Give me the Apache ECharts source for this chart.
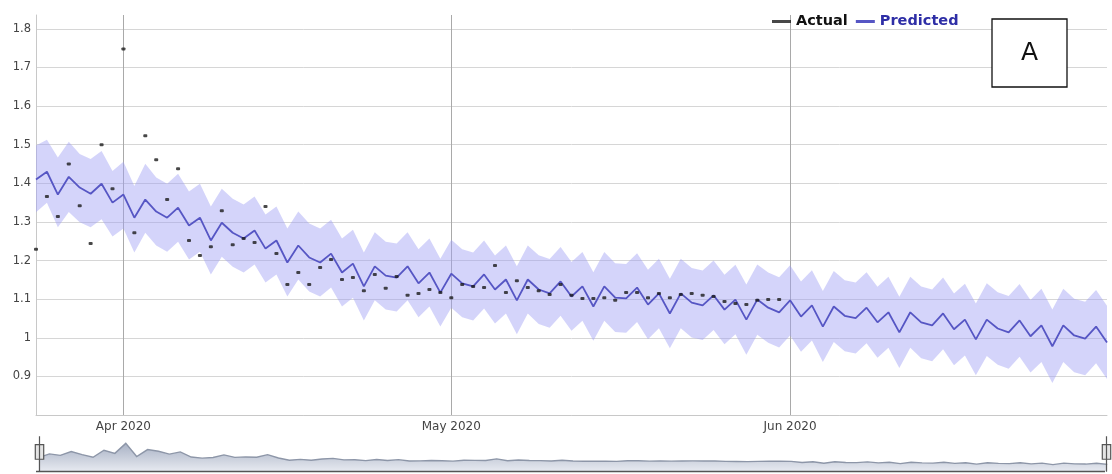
<!DOCTYPE html>
<html>
<head>
<meta charset="utf-8">
<script src="https://cdn.jsdelivr.net/npm/echarts@6/dist/echarts.min.js"></script>
<style>
html,body{margin:0;padding:0;background:#fff;}
#chart{width:1112px;height:474px;}
</style>
</head>
<body>
<div id="chart"></div>
<script>
// X categories: daily dates from 2020-03-24 to 2020-06-30
const startYear = 2020, startMonth = 2, startDay = 24, nDays = 99;
const dates = [];
for (let i = 0; i < nDays; i++) {
  dates.push(new Date(Date.UTC(startYear, startMonth, startDay + i)).toISOString().slice(0, 10));
}
const tickDates = ['2020-04-01', '2020-05-01', '2020-06-01'];
const tickLabels = ['Apr 2020', 'May 2020', 'Jun 2020'];

// Actual observed values (2020-03-24 .. 2020-05-31)
const actual = [
  1.229, 1.366, 1.314, 1.450, 1.342, 1.244, 1.500, 1.386, 1.748, 1.272,
  1.523, 1.461, 1.358, 1.438, 1.252, 1.213, 1.236, 1.329, 1.241, 1.257,
  1.247, 1.340, 1.218, 1.138, 1.169, 1.138, 1.182, 1.203, 1.151, 1.156,
  1.122, 1.164, 1.128, 1.159, 1.110, 1.115, 1.125, 1.117, 1.104, 1.138,
  1.133, 1.130, 1.187, 1.117, 1.148, 1.130, 1.122, 1.112, 1.138, 1.110,
  1.102, 1.102, 1.104, 1.097, 1.117, 1.117, 1.104, 1.115, 1.104, 1.112,
  1.115, 1.110, 1.107, 1.094, 1.089, 1.086, 1.097, 1.099, 1.099
];

// Predicted values (2020-03-24 .. 2020-06-30)
const predicted = [
  1.410, 1.430, 1.371, 1.417, 1.389, 1.373, 1.399, 1.350, 1.371, 1.311,
  1.358, 1.327, 1.311, 1.337, 1.291, 1.311, 1.252, 1.298, 1.272, 1.257,
  1.278, 1.231, 1.252, 1.195, 1.239, 1.208, 1.195, 1.218, 1.169, 1.192,
  1.133, 1.185, 1.161, 1.156, 1.185, 1.141, 1.169, 1.117, 1.166, 1.141,
  1.133, 1.164, 1.125, 1.151, 1.097, 1.151, 1.125, 1.115, 1.146, 1.107,
  1.133, 1.081, 1.133, 1.104, 1.102, 1.130, 1.086, 1.115, 1.063, 1.115,
  1.091, 1.084, 1.110, 1.073, 1.099, 1.047, 1.099, 1.078, 1.066, 1.097,
  1.055, 1.084, 1.029, 1.081, 1.057, 1.051, 1.078, 1.040, 1.066, 1.014,
  1.066, 1.040, 1.032, 1.063, 1.022, 1.047, 0.996, 1.047, 1.024, 1.014,
  1.045, 1.004, 1.032, 0.978, 1.032, 1.006, 0.998, 1.029, 0.988
];

// Prediction interval upper bound
const upper = [
  1.498, 1.513, 1.467, 1.508, 1.476, 1.463, 1.484, 1.432, 1.456, 1.393,
  1.451, 1.415, 1.399, 1.425, 1.379, 1.399, 1.340, 1.386, 1.360, 1.345,
  1.366, 1.319, 1.340, 1.283, 1.327, 1.296, 1.283, 1.306, 1.257, 1.280,
  1.221, 1.273, 1.249, 1.244, 1.273, 1.229, 1.257, 1.205, 1.254, 1.229,
  1.221, 1.252, 1.213, 1.239, 1.185, 1.239, 1.214, 1.204, 1.235, 1.196,
  1.222, 1.170, 1.222, 1.193, 1.191, 1.219, 1.176, 1.205, 1.153, 1.205,
  1.181, 1.174, 1.200, 1.163, 1.189, 1.138, 1.190, 1.169, 1.157, 1.188,
  1.146, 1.175, 1.121, 1.173, 1.149, 1.143, 1.170, 1.132, 1.158, 1.106,
  1.158, 1.133, 1.125, 1.156, 1.115, 1.140, 1.089, 1.141, 1.118, 1.108,
  1.139, 1.098, 1.127, 1.073, 1.127, 1.101, 1.093, 1.124, 1.083
];

// Prediction interval lower bound
const lower = [
  1.325, 1.350, 1.286, 1.326, 1.299, 1.286, 1.307, 1.262, 1.283, 1.221,
  1.272, 1.239, 1.223, 1.249, 1.203, 1.223, 1.164, 1.210, 1.184, 1.169,
  1.190, 1.143, 1.164, 1.107, 1.151, 1.120, 1.107, 1.130, 1.081, 1.104,
  1.045, 1.097, 1.073, 1.068, 1.097, 1.053, 1.081, 1.029, 1.078, 1.053,
  1.045, 1.076, 1.037, 1.063, 1.009, 1.063, 1.036, 1.026, 1.057, 1.018,
  1.044, 0.992, 1.044, 1.015, 1.013, 1.041, 0.996, 1.025, 0.973, 1.025,
  1.001, 0.994, 1.020, 0.983, 1.009, 0.956, 1.008, 0.987, 0.975, 1.006,
  0.964, 0.993, 0.937, 0.989, 0.965, 0.959, 0.986, 0.948, 0.974, 0.922,
  0.974, 0.947, 0.939, 0.970, 0.929, 0.954, 0.903, 0.953, 0.930, 0.920,
  0.951, 0.910, 0.937, 0.883, 0.937, 0.911, 0.903, 0.934, 0.893
];

const yTicks = ['0.9', '1', '1.1', '1.2', '1.3', '1.4', '1.5', '1.6', '1.7', '1.8'];

// Derived arrays needed by the library
const bandWidth = upper.map((u, i) => +(u - lower[i]).toFixed(4));
const shadowData = predicted.map((p, i) => (i < actual.length ? actual[i] : p));
const isMonthStart = (idx) => tickDates.indexOf(dates[idx]) >= 0;

const chart = echarts.init(document.getElementById('chart'), null, { renderer: 'canvas' });

const gridSplitColors = [];
for (let i = 0; i < 11; i++) gridSplitColors.push('#d6d6d6');
gridSplitColors.push('rgba(0,0,0,0)');

const shadowFill = new echarts.graphic.LinearGradient(0, 0, 0, 1, [
  { offset: 0, color: '#e6e9f0' }, { offset: 1, color: '#a9b2c5' }
]);

chart.setOption({
  animation: false,
  backgroundColor: '#fff',
  textStyle: { fontFamily: 'DejaVu Sans' },
  grid: { left: 36, right: 5, top: 15, bottom: 59, containLabel: false },
  legend: {
    left: 772, top: 14, padding: 0,
    icon: 'rect', itemWidth: 19, itemHeight: 3, itemGap: 8,
    selectedMode: false,
    textStyle: { fontFamily: 'DejaVu Sans', fontWeight: 'bold', fontSize: 14.5 },
    data: [
      { name: 'Actual', textStyle: { color: '#111' } },
      { name: 'Predicted', textStyle: { color: '#2e2ea6' } }
    ]
  },
  xAxis: {
    type: 'category',
    data: dates,
    boundaryGap: false,
    axisLine: { show: true, lineStyle: { color: '#c8c8c8', width: 1 } },
    axisTick: { show: false },
    axisLabel: {
      interval: (idx) => isMonthStart(idx),
      formatter: (v) => tickLabels[tickDates.indexOf(v)] || '',
      color: '#444', fontSize: 12, margin: 6, fontFamily: 'DejaVu Sans'
    },
    splitLine: {
      show: true,
      interval: (idx) => isMonthStart(idx),
      lineStyle: { color: '#a9a9a9', width: 1 }
    }
  },
  yAxis: {
    type: 'value',
    min: 0.8, max: 1.836, interval: 0.1,
    axisLine: { show: true, lineStyle: { color: '#c8c8c8', width: 1 } },
    axisTick: { show: false },
    axisLabel: {
      showMinLabel: false, showMaxLabel: false,
      color: '#444', fontSize: 11.5, margin: 5, fontFamily: 'DejaVu Sans',
      formatter: (v) => {
        const s = String(+v.toFixed(1));
        return yTicks.indexOf(s) >= 0 ? s : '';
      }
    },
    splitLine: { show: true, lineStyle: { color: gridSplitColors, width: 1 } }
  },
  dataZoom: [{
    type: 'slider',
    xAxisIndex: 0,
    start: 0, end: 100,
    left: 36, right: 7, top: 437, height: 34,
    showDetail: false,
    brushSelect: false,
    moveHandleSize: 0,
    borderColor: 'rgba(0,0,0,0)',
    backgroundColor: 'rgba(0,0,0,0)',
    fillerColor: 'rgba(0,0,0,0)',
    handleIcon: 'path://M5,0 L5,34 M1,12 L9,12 L9,26 L1,26 Z',
    handleSize: '105%',
    handleStyle: { color: '#e4e4e4', borderColor: '#555', borderWidth: 1.2 },
    dataBackground: {
      lineStyle: { color: '#8d96a8', width: 1.4, opacity: 1 },
      areaStyle: { opacity: 1, color: shadowFill }
    },
    selectedDataBackground: {
      lineStyle: { color: '#8d96a8', width: 1.4, opacity: 1 },
      areaStyle: { opacity: 1, color: shadowFill }
    },
    emphasis: { handleStyle: { color: '#e4e4e4', borderColor: '#555' } }
  }],
  graphic: [
    {
      type: 'line', z: 50, silent: true,
      shape: { x1: 36, y1: 471.5, x2: 1105, y2: 471.5 },
      style: { stroke: '#555', lineWidth: 1.5 }
    },
    {
      type: 'rect', z: 100, silent: true,
      shape: { x: 992, y: 19, width: 75, height: 68 },
      style: { fill: '#fff', stroke: '#111', lineWidth: 1.3 }
    },
    {
      type: 'text', z: 101, silent: true,
      x: 1029.5, y: 53,
      style: {
        text: 'A', fill: '#111', font: '25px "DejaVu Sans"',
        align: 'center', verticalAlign: 'middle'
      }
    }
  ],
  series: [
    {
      name: 'shadow', type: 'line', data: shadowData,
      symbol: 'none', silent: true, z: 0,
      lineStyle: { opacity: 0, width: 0 }, legendHoverLink: false
    },
    {
      name: 'lowerBand', type: 'line', data: lower, stack: 'band',
      symbol: 'none', silent: true, z: 1,
      lineStyle: { opacity: 0, width: 0 }
    },
    {
      name: 'band', type: 'line', data: bandWidth, stack: 'band',
      symbol: 'none', silent: true, z: 1,
      lineStyle: { opacity: 0, width: 0 },
      areaStyle: { color: 'rgba(160,160,245,0.45)', opacity: 1 }
    },
    {
      name: 'Predicted', type: 'line', data: predicted,
      symbol: 'none', z: 3, color: '#5656c4',
      lineStyle: { color: '#5656c4', width: 1.8 }
    },
    {
      name: 'Actual', type: 'scatter', data: actual,
      symbol: 'roundRect', symbolSize: [4, 3], z: 4,
      itemStyle: { color: '#1a1a1a' }
    }
  ]
});
</script>
</body>
</html>
